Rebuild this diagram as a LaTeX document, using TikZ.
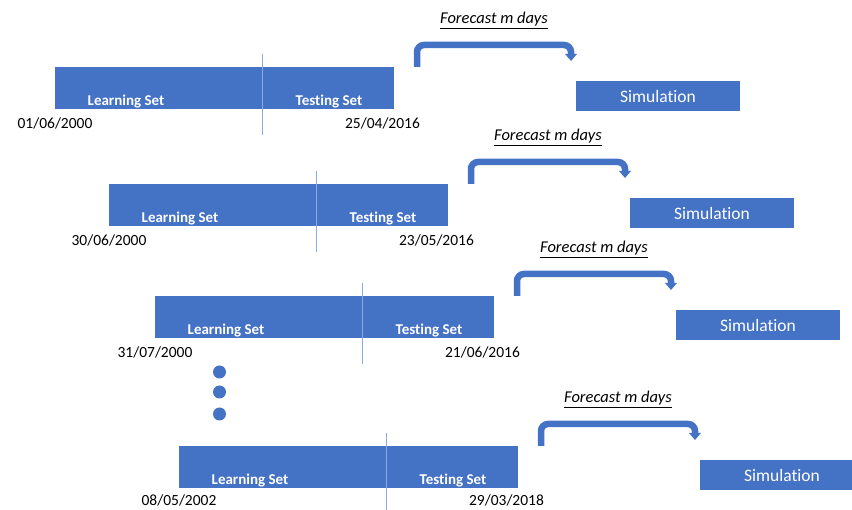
\documentclass[tikz,border=0pt]{standalone}
\usepackage{fontspec}
\setmainfont{Carlito}[Ligatures=NoCommon]
\usetikzlibrary{arrows.meta}
\definecolor{setblue}{RGB}{68,114,196}
\definecolor{splitblue}{RGB}{143,170,220}
\tikzset{
    barbox/.style={fill=setblue, minimum width=339pt, minimum height=42pt, inner sep=0pt},
    simbox/.style={fill=setblue, text=white, minimum width=164pt, minimum height=30pt, inner sep=0pt, font=\fontsize{17.5}{20}\selectfont},
    setlabel/.style={text=white, anchor=base, inner sep=0pt, font=\fontsize{15}{18}\selectfont\bfseries},
    datelabel/.style={anchor=base, inner sep=0pt, font=\fontsize{15.5}{18}\selectfont},
    forecast/.style={anchor=base, inner sep=0pt, font=\fontsize{16.5}{19}\selectfont\itshape},
    fcarrow/.style={draw=setblue, line width=6.5pt, rounded corners=7pt, -{Triangle[width=11.5pt,length=7pt]}},
    splitline/.style={draw=splitblue, line width=1pt},
    moredot/.style={circle, fill=setblue, minimum size=13pt, inner sep=0pt}
}
\begin{document}
\begin{tikzpicture}[x=1pt, y=-1pt]
    \useasboundingbox (0,0) rectangle (852,510);
    \clip (0,0) rectangle (852,510);

    % Row 1
    \node[barbox] (bar1) at (224.5,88) {};
    \draw[splitline] (262,54) -- (262,135);
    \node[setlabel] (learn1) at (126,106) {Learning Set};
    \node[setlabel] (test1) at (329,106) {Testing Set};
    \node[datelabel] (from1) at (55,129) {01/06/2000};
    \node[datelabel] (to1) at (382.5,129) {25/04/2016};
    \node[forecast] (fc1) at (494,24) {\underline{Forecast m days}};
    \node[simbox] (sim1) at (658,96) {Simulation};
    \coordinate (fa1) at (417,67);
    \coordinate (fb1) at (571,61);
    \draw[fcarrow] (fa1) |- ++(154,-22) -- (fb1);

    % Row 2
    \node[barbox] (bar2) at (278.5,205) {};
    \draw[splitline] (316,171) -- (316,252);
    \node[setlabel] (learn2) at (180,223) {Learning Set};
    \node[setlabel] (test2) at (383,223) {Testing Set};
    \node[datelabel] (from2) at (109,246) {30/06/2000};
    \node[datelabel] (to2) at (436.5,246) {23/05/2016};
    \node[forecast] (fc2) at (548,141) {\underline{Forecast m days}};
    \node[simbox] (sim2) at (712,213) {Simulation};
    \coordinate (fa2) at (471,184);
    \coordinate (fb2) at (625,178);
    \draw[fcarrow] (fa2) |- ++(154,-22) -- (fb2);

    % Row 3
    \node[barbox] (bar3) at (324.5,317) {};
    \draw[splitline] (362,283) -- (362,364);
    \node[setlabel] (learn3) at (226,335) {Learning Set};
    \node[setlabel] (test3) at (429,335) {Testing Set};
    \node[datelabel] (from3) at (155,358) {31/07/2000};
    \node[datelabel] (to3) at (482.5,358) {21/06/2016};
    \node[forecast] (fc3) at (594,253) {\underline{Forecast m days}};
    \node[simbox] (sim3) at (758,325) {Simulation};
    \coordinate (fa3) at (517,296);
    \coordinate (fb3) at (671,290);
    \draw[fcarrow] (fa3) |- ++(154,-22) -- (fb3);

    % more rows
    \node[moredot] (dot1) at (219.5,372) {};
    \node[moredot] (dot2) at (219.5,392) {};
    \node[moredot] (dot3) at (219.5,414) {};

    % Row 4
    \node[barbox] (bar4) at (348.5,467) {};
    \draw[splitline] (386,433) -- (386,514);
    \node[setlabel] (learn4) at (250,485) {Learning Set};
    \node[setlabel] (test4) at (453,485) {Testing Set};
    \node[datelabel] (from4) at (179,506) {08/05/2002};
    \node[datelabel] (to4) at (506.5,506) {29/03/2018};
    \node[forecast] (fc4) at (618,403) {\underline{Forecast m days}};
    \node[simbox] (sim4) at (782,475) {Simulation};
    \coordinate (fa4) at (541,446);
    \coordinate (fb4) at (695,440);
    \draw[fcarrow] (fa4) |- ++(154,-22) -- (fb4);
\end{tikzpicture}
\end{document}
